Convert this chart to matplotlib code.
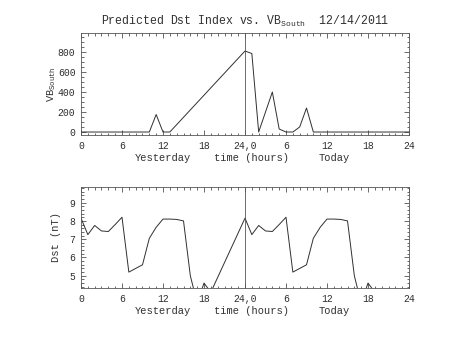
import matplotlib
matplotlib.use("Agg")
import matplotlib.pyplot as plt
from matplotlib.ticker import MultipleLocator, FixedLocator
from matplotlib.transforms import blended_transform_factory

plt.rcParams['font.family'] = ['Liberation Mono', 'DejaVu Sans Mono']
plt.rcParams['mathtext.fontset'] = 'custom'
plt.rcParams['mathtext.rm'] = 'Liberation Mono'
plt.rcParams['mathtext.it'] = 'Liberation Mono'

# hours since start of yesterday (0..48)
vb_hours = [0, 10, 11, 12, 13, 24, 25, 26, 28, 29, 30, 31, 32, 33, 34, 48]
vb_south = [0, 0, 175, 0, 0, 810, 785, 0, 400, 30, 0, 0, 50, 240, 0, 0]

dst_hours = list(range(0, 20)) + list(range(24, 44))
dst_day = [8.15, 7.25, 7.75, 7.45, 7.42, 7.8, 8.2, 5.2, 5.4, 5.6,
           7.05, 7.65, 8.1, 8.1, 8.08, 8.0, 5.0, 3.5, 4.6, 4.1]
dst_vals = dst_day + dst_day

xtick_pos = [0, 6, 12, 18, 24, 30, 36, 42, 48]
xtick_lab = ['0', '6', '12', '18', '24,0', '6', '12', '18', '24']
day_labels = [(12, 'Yesterday'), (25, 'time (hours)'), (37, 'Today')]

ink = '#303030'
fig = plt.figure(figsize=(4.53, 3.40), dpi=100)
ax1 = fig.add_axes([0.1788, 0.6029, 0.7241, 0.30])
ax2 = fig.add_axes([0.1788, 0.1529, 0.7241, 0.298])


def style(ax):
    ax.set_xlim(0, 48)
    ax.xaxis.set_major_locator(FixedLocator(xtick_pos))
    ax.set_xticklabels(xtick_lab)
    ax.xaxis.set_minor_locator(MultipleLocator(1))
    ax.tick_params(which='both', direction='in', top=True, right=True,
                   colors=ink, labelsize=7, width=0.5)
    ax.tick_params(which='major', length=3.5, pad=4)
    ax.tick_params(which='minor', length=1.8)
    for s in ax.spines.values():
        s.set_linewidth(0.6)
        s.set_color('#555555')
    ax.axvline(24, color='#555555', lw=0.6)
    tr = blended_transform_factory(ax.transData, ax.transAxes)
    for x, t in day_labels:
        ax.text(x, -0.225, t, transform=tr, ha='center', va='center',
                fontsize=7.5, color=ink)


ax1.plot(vb_hours, vb_south, color=ink, lw=0.7)
style(ax1)
ax1.set_ylim(-30, 990)
ax1.yaxis.set_major_locator(MultipleLocator(200))
ax1.yaxis.set_minor_locator(MultipleLocator(50))
ax1.set_ylabel('VB$_{\\mathrm{South}}$', fontsize=7.5, color=ink, labelpad=0)
ax1.set_title('Predicted Dst Index vs. VB$_{\\mathrm{South}}$  12/14/2011',
              fontsize=8.3, color=ink, pad=6)

ax2.plot(dst_hours, dst_vals, color=ink, lw=0.7)
style(ax2)
ax2.set_ylim(4.33, 9.87)
ax2.yaxis.set_major_locator(MultipleLocator(1))
ax2.yaxis.set_minor_locator(MultipleLocator(0.2))
ax2.set_ylabel('Dst (nT)', fontsize=7.5, color=ink, labelpad=6)

fig.savefig('out.png', dpi=100)
